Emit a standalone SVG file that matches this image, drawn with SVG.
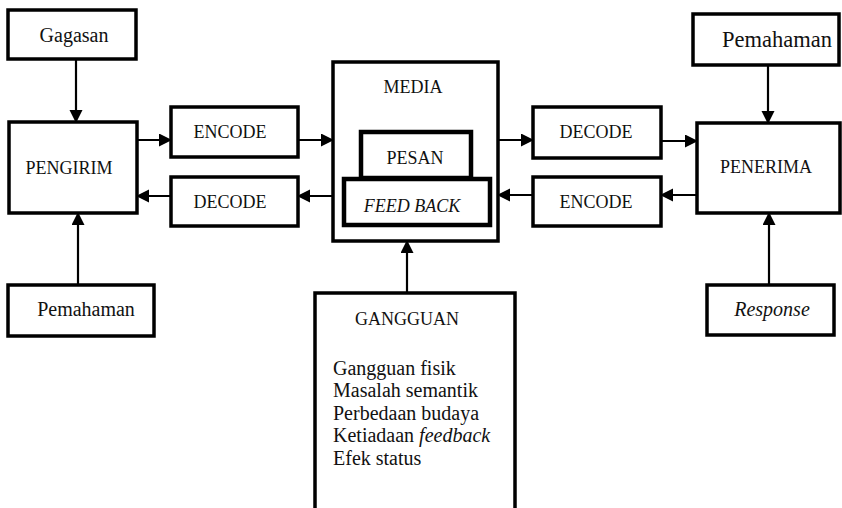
<svg xmlns="http://www.w3.org/2000/svg" width="842" height="508" viewBox="0 0 842 508">
<style>
.box{fill:#fff;stroke:#000;stroke-width:3.5}
.ibox{fill:#fff;stroke:#000;stroke-width:4.5}
.t{font-family:"Liberation Serif","Times New Roman",serif;fill:#111;font-size:20px}
.c{font-size:18px}
.m{text-anchor:middle}
.i{font-style:italic}
.ln{stroke:#000;stroke-width:2.2;fill:none}
</style>
<defs>
<marker id="ah" markerUnits="userSpaceOnUse" markerWidth="14" markerHeight="14" refX="12" refY="6.5" orient="auto">
<path d="M0,0 L13,6.5 L0,13 z" fill="#000"/>
</marker>
</defs>
<rect width="842" height="508" fill="#fff"/>
<g id="connectors">
<line class="ln" x1="76" y1="60" x2="76" y2="122" marker-end="url(#ah)"/>
<line class="ln" x1="137" y1="140" x2="171" y2="140" marker-end="url(#ah)"/>
<line class="ln" x1="298" y1="140" x2="333" y2="140" marker-end="url(#ah)"/>
<line class="ln" x1="498" y1="140" x2="533" y2="140" marker-end="url(#ah)"/>
<line class="ln" x1="661" y1="141" x2="697" y2="141" marker-end="url(#ah)"/>
<line class="ln" x1="697" y1="195" x2="661" y2="195" marker-end="url(#ah)"/>
<line class="ln" x1="533" y1="195" x2="498" y2="195" marker-end="url(#ah)"/>
<line class="ln" x1="333" y1="196" x2="298" y2="196" marker-end="url(#ah)"/>
<line class="ln" x1="171" y1="196" x2="137" y2="196" marker-end="url(#ah)"/>
<line class="ln" x1="768" y1="65" x2="768" y2="123" marker-end="url(#ah)"/>
<line class="ln" x1="78" y1="285" x2="78" y2="213" marker-end="url(#ah)"/>
<line class="ln" x1="769" y1="285" x2="769" y2="213" marker-end="url(#ah)"/>
<line class="ln" x1="407" y1="293" x2="407" y2="241" marker-end="url(#ah)"/>
</g>
<g id="gagasan"><rect class="box" x="8" y="10" width="128" height="49"/><text class="t m" x="74" y="42">Gagasan</text></g>
<g id="pengirim"><rect class="box" x="9" y="122" width="128" height="91"/><text class="t c m" x="69" y="174">PENGIRIM</text></g>
<g id="encode-left"><rect class="box" x="171" y="107" width="127" height="50"/><text class="t c m" x="230" y="138">ENCODE</text></g>
<g id="decode-left"><rect class="box" x="171" y="177" width="127" height="49"/><text class="t c m" x="230" y="208">DECODE</text></g>
<g id="media"><rect class="box" x="333" y="62" width="165" height="179"/><text class="t c m" x="413" y="93">MEDIA</text></g>
<g id="pesan"><rect class="ibox" x="361" y="132" width="110" height="46"/><text class="t c m" x="415" y="164">PESAN</text></g>
<g id="feedback"><rect class="ibox" x="344" y="179" width="146" height="46"/><text class="t c m i" x="412" y="212">FEED BACK</text></g>
<g id="decode-right"><rect class="box" x="533" y="107" width="128" height="51"/><text class="t c m" x="596" y="138">DECODE</text></g>
<g id="encode-right"><rect class="box" x="533" y="177" width="128" height="49"/><text class="t c m" x="596" y="208">ENCODE</text></g>
<g id="pemahaman-top"><rect class="box" x="693" y="14" width="146" height="51"/><text class="t" x="722" y="47" style="font-size:22.5px">Pemahaman</text></g>
<g id="penerima"><rect class="box" x="697" y="123" width="143" height="90"/><text class="t c m" x="766" y="173">PENERIMA</text></g>
<g id="pemahaman-bottom"><rect class="box" x="8" y="285" width="146" height="51"/><text class="t m" x="86" y="316">Pemahaman</text></g>
<g id="response"><rect class="box" x="707" y="285" width="127" height="50"/><text class="t m i" x="772" y="316">Response</text></g>
<g id="gangguan">
<path class="box" d="M315,512 V293 H515 V512"/>
<text class="t c m" x="407" y="325">GANGGUAN</text>
<text class="t" x="333" y="375">Gangguan fisik</text>
<text class="t" x="333" y="397">Masalah semantik</text>
<text class="t" x="333" y="420">Perbedaan budaya</text>
<text class="t" x="333" y="442">Ketiadaan <tspan class="i">feedback</tspan></text>
<text class="t" x="333" y="465">Efek status</text>
</g>
</svg>
